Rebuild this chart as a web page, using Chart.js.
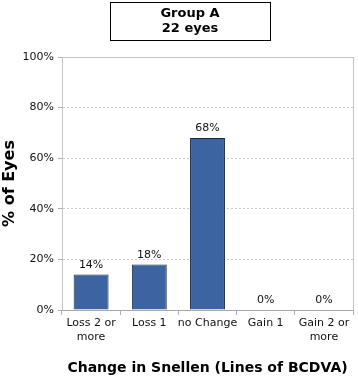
<!DOCTYPE html>
<html><head><meta charset="utf-8">
<script src="https://cdn.jsdelivr.net/npm/chart.js@4"></script>
<style>html,body{margin:0;padding:0;background:#fff}#w{width:358px;height:377px}</style>
</head><body><div id="w"><canvas id="c" width="358" height="377"></canvas></div>
<script>
const categories = [["Loss 2 or","more"], "Loss 1", "no Change", "Gain 1", ["Gain 2 or","more"]];
const values = [14, 18, 68, 0, 0];
const yTicks = [0, 20, 40, 60, 80, 100];
const titleLines = ["Group A", "22 eyes"];
const xTitle = "Change in Snellen (Lines of BCDVA)";
const yTitle = "% of Eyes";

const FONT = "'DejaVu Sans', Verdana, sans-serif";

const decor = {
  id: 'decor',
  beforeDatasetsDraw(chart) {
    const {ctx, chartArea: a} = chart;
    ctx.save();
    ctx.strokeStyle = '#c4c4c4';
    ctx.lineWidth = 1;
    ctx.strokeRect(Math.round(a.left) + 0.5, Math.round(a.top) + 0.5, Math.round(a.right - a.left), Math.round(a.bottom - a.top));
    ctx.beginPath();
    ctx.strokeStyle = '#a8a8a8';
    ctx.moveTo(Math.round(a.left), Math.round(a.bottom) + 0.5);
    ctx.lineTo(Math.round(a.right) + 1, Math.round(a.bottom) + 0.5);
    ctx.stroke();
    ctx.restore();
  },
  afterDraw(chart) {
    const {ctx} = chart;
    ctx.save();
    // title box
    ctx.strokeStyle = '#000';
    ctx.lineWidth = 1;
    ctx.strokeRect(110.5, 2.5, 160, 38);
    ctx.fillStyle = '#000';
    ctx.font = "bold 13px " + FONT;
    ctx.textAlign = 'center';
    ctx.textBaseline = 'middle';
    ctx.fillText(titleLines[0], 190, 14);
    ctx.fillText(titleLines[1], 190, 29);
    // value labels
    const meta = chart.getDatasetMeta(0);
    ctx.font = "11px " + FONT;
    ctx.fillStyle = '#111';
    ctx.textBaseline = 'bottom';
    meta.data.forEach((bar, i) => {
      ctx.fillText(values[i] + '%', bar.x, bar.y - 4);
    });
    ctx.restore();
  }
};

new Chart(document.getElementById('c'), {
  type: 'bar',
  data: {
    labels: categories,
    datasets: [{
      data: values,
      backgroundColor: '#3b64a0',
      borderColor: '#18283f',
      borderWidth: 1,
      categoryPercentage: 0.6,
      barPercentage: 1.0
    }]
  },
  options: {
    responsive: false,
    animation: false,
    layout: { padding: { top: 57, right: 5, left: 0, bottom: 0 } },
    plugins: { legend: { display: false }, tooltip: { enabled: false }, title: { display: false } },
    scales: {
      x: {
        offset: true,
        grid: { display: true, drawOnChartArea: false, tickLength: 5, color: '#b0b0b0' },
        border: { color: '#a8a8a8' },
        ticks: { color: '#111', font: { family: FONT, size: 11 }, maxRotation: 0, autoSkip: false, padding: 2 },
        title: { display: true, text: xTitle, color: '#000', font: { family: FONT, size: 14, weight: 'bold' }, padding: { top: 14, bottom: 0 } },
        afterFit(s) { s.height = 67; }
      },
      y: {
        min: 0, max: 100,
        afterBuildTicks(s) { s.ticks = yTicks.map(v => ({ value: v })); },
        grid: { color: '#c8c8c8', tickLength: 4, tickColor: '#b0b0b0', tickBorderDash: [] },
        border: { color: '#c4c4c4', dash: [2, 2] },
        ticks: { color: '#111', font: { family: FONT, size: 11 }, padding: 4, callback: v => v + '%' },
        title: { display: true, text: yTitle, color: '#000', font: { family: FONT, size: 16, weight: 'bold' }, padding: 0 },
        afterFit(s) { s.width = 62; }
      }
    }
  },
  plugins: [decor]
});
</script></body></html>
